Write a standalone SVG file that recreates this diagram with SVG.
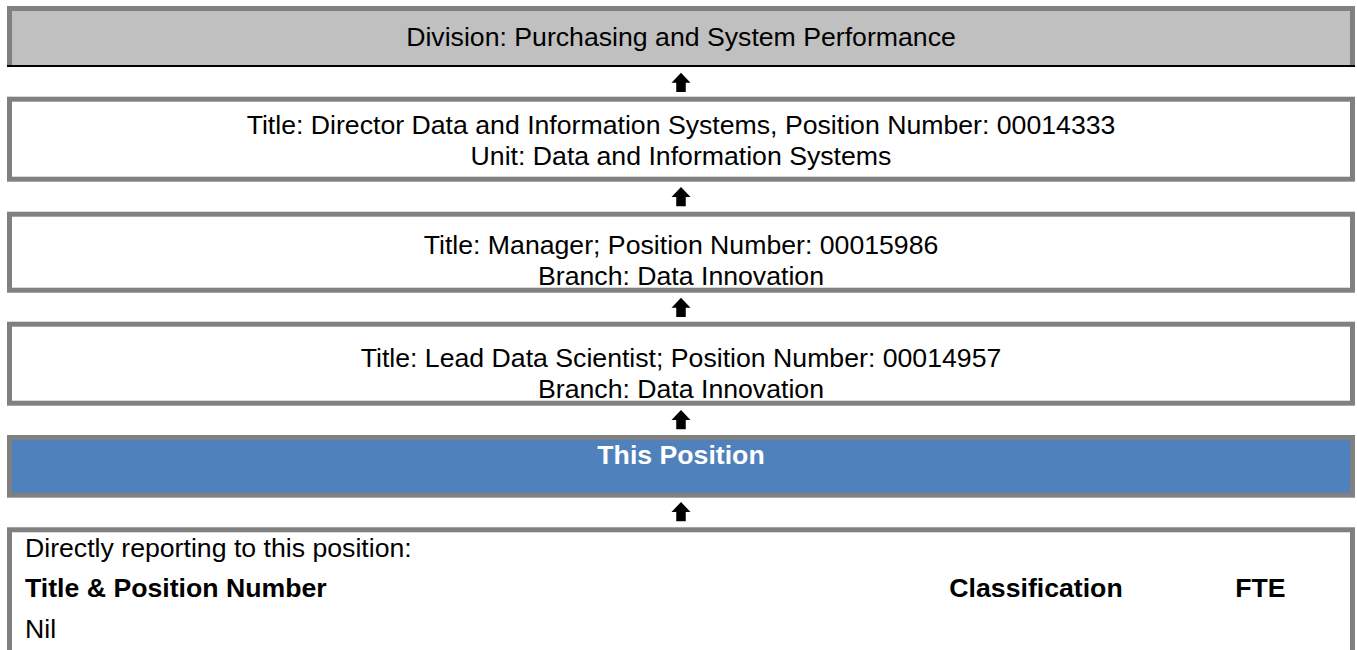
<svg xmlns="http://www.w3.org/2000/svg" width="1357" height="650" viewBox="0 0 1357 650">
<style>
  text { font-family: "Liberation Sans", Arial, sans-serif; font-size: 26.67px; fill: #000; }
  .c { text-anchor: middle; }
  .b { font-weight: bold; }
  .w { fill: #fff; }
  .box { fill: #fff; stroke: #808080; stroke-width: 5; }
  .arrow { fill: #000; }
</style>
<defs>
  <path id="up" d="M0,0 L9.5,10 H4.75 V19.3 H-4.75 V10 H-9.5 Z"/>
</defs>
<rect width="1357" height="650" fill="#fff"/>

<g id="division">
  <rect x="9.5" y="8.5" width="1343" height="57" fill="#C0C0C0"/>
  <path d="M9.5,65 V8.5 H1352.5 V65" fill="none" stroke="#808080" stroke-width="5"/>
  <line x1="7" y1="66" x2="1355" y2="66" stroke="#000" stroke-width="2"/>
  <text class="c" x="681" y="46">Division: Purchasing and System Performance</text>
</g>

<g id="director">
  <rect class="box" x="9.5" y="99.2" width="1343" height="80"/>
  <text class="c" x="681" y="134">Title: Director Data and Information Systems, Position Number: 00014333</text>
  <text class="c" x="681" y="165">Unit: Data and Information Systems</text>
</g>

<g id="manager">
  <rect class="box" x="9.5" y="214.2" width="1343" height="76"/>
  <text class="c" x="681" y="254">Title: Manager; Position Number: 00015986</text>
  <text class="c" x="681" y="285">Branch: Data Innovation</text>
</g>

<g id="lead">
  <rect class="box" x="9.5" y="324.2" width="1343" height="79"/>
  <text class="c" x="681" y="367">Title: Lead Data Scientist; Position Number: 00014957</text>
  <text class="c" x="681" y="398">Branch: Data Innovation</text>
</g>

<g id="this-position">
  <rect class="box" x="9.5" y="437.5" width="1343" height="57.7" style="fill:#4F81BD"/>
  <text class="c b w" x="681" y="464">This Position</text>
</g>

<g id="reports">
  <rect class="box" x="9.5" y="529.8" width="1343" height="200"/>
  <text x="25" y="557">Directly reporting to this position:</text>
  <text class="b" x="25" y="597">Title &amp; Position Number</text>
  <text class="b" x="1122.7" y="597" text-anchor="end">Classification</text>
  <text class="b" x="1235.3" y="597">FTE</text>
  <text x="25" y="638">Nil</text>
</g>

<g id="connectors" class="arrow">
  <use href="#up" x="681" y="72.7"/>
  <use href="#up" x="681" y="187"/>
  <use href="#up" x="681" y="297.7"/>
  <use href="#up" x="681" y="410"/>
  <use href="#up" x="681" y="502"/>
</g>
</svg>
